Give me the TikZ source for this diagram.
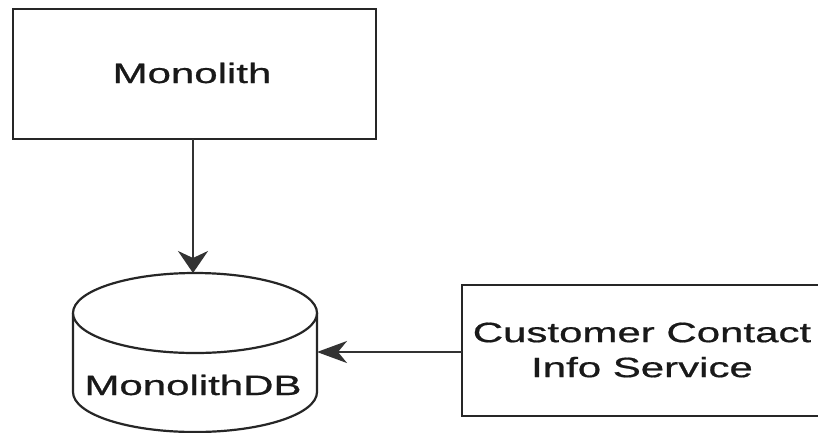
\documentclass[tikz,border=0pt]{standalone}
\usepackage{fontspec}
\setmainfont{Liberation Sans}[FakeBold=0.6]
\usetikzlibrary{arrows.meta}
\begin{document}
\begin{tikzpicture}[x=1pt,y=-1pt,
  box/.style={draw=black!85,line width=2.2pt,fill=white},
  label/.style={font=\fontsize{28}{35}\selectfont,text=black!90,align=center,xscale=1.5,transform shape},
  link/.style={draw=black!80,line width=2.2pt},
  downtip/.style={-{Stealth[length=22pt,width=30pt,inset=7pt]}},
  lefttip/.style={-{Stealth[length=30pt,width=22pt,inset=9pt]}}]
  \useasboundingbox (0,0) rectangle (818,432);
  \clip (0,0) rectangle (818,432);
  \fill[white] (0,0) rectangle (818,432);

  % Monolith application
  \draw[box] (13,9) rectangle (376,139);
  \node[label] (mono) at (192,73) {Monolith};
  \coordinate (monobottom) at (193,139);

  % MonolithDB cylinder
  \draw[box] (73,313) -- (73,392) arc[start angle=180,end angle=0,x radius=122,y radius=40]
    -- (317,313);
  \draw[box] (195,313) ellipse[x radius=122,y radius=40];
  \node[label] (db) at (193,385) {MonolithDB};
  \coordinate (dbtop) at (193,273);
  \coordinate (dbright) at (317,352);

  % Customer Contact Info Service
  \draw[box] (462,285) rectangle (824,416);
  \node[label,inner sep=0pt] (cci) at (642,350) {Customer Contact\\Info Service};
  \coordinate (ccileft) at (462,352);

  % connectors
  \draw[link,downtip] (monobottom) -- (dbtop);
  \draw[link,lefttip] (ccileft) -- (dbright);
\end{tikzpicture}
\end{document}
